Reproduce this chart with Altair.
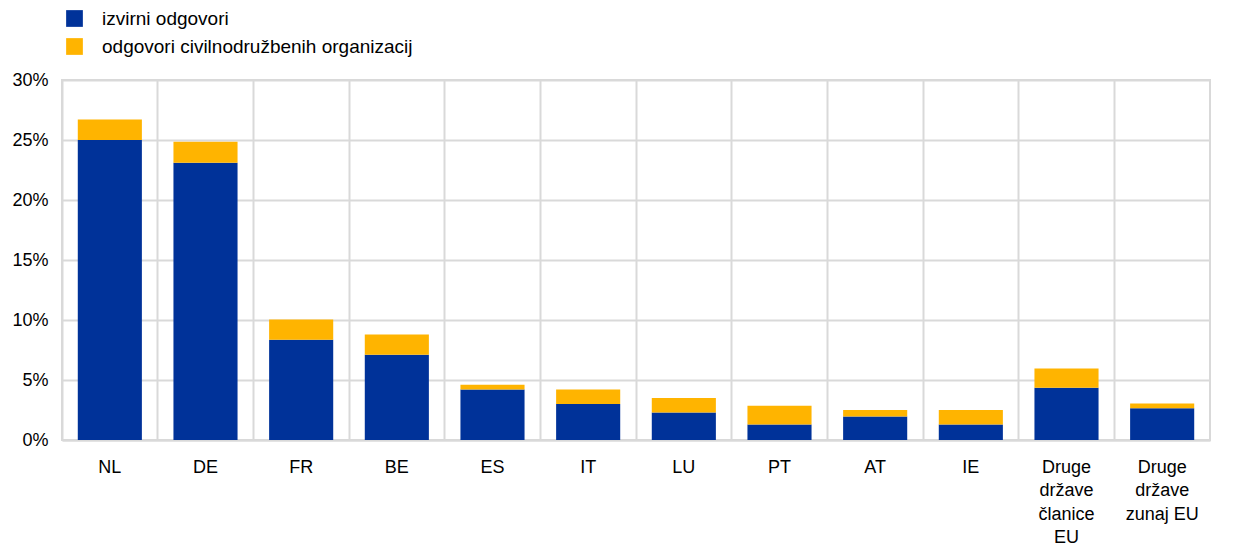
import altair as alt
import pandas as pd

categories = ["NL", "DE", "FR", "BE", "ES", "IT", "LU", "PT", "AT", "IE",
              "Druge\ndržave\nčlanice\nEU", "Druge\ndržave\nzunaj EU"]
original = [25.0, 23.1, 8.35, 7.1, 4.2, 3.0, 2.3, 1.3, 1.95, 1.3, 4.35, 2.65]
cso = [1.7, 1.75, 1.7, 1.7, 0.4, 1.2, 1.2, 1.55, 0.55, 1.2, 1.6, 0.4]
series = ["izvirni odgovori", "odgovori civilnodružbenih organizacij"]
colors = ["#003299", "#FFB400"]

rows = []
for c, a, b in zip(categories, original, cso):
    rows.append({"cat": c, "series": series[0], "value": a, "ord": 0})
    rows.append({"cat": c, "series": series[1], "value": b, "ord": 1})
df = pd.DataFrame(rows)

FONT = "Arial, Liberation Sans"

chart = alt.Chart(df).mark_bar(width=alt.RelativeBandSize(0.67)).encode(
    x=alt.X("cat:N", sort=categories, title=None,
            scale=alt.Scale(paddingInner=0, paddingOuter=0),
            axis=alt.Axis(labelExpr="split(datum.label, '\\n')", labelAngle=0,
                          labelFontSize=18, labelFont=FONT, labelColor="#000",
                          labelPadding=18, labelLineHeight=23.5,
                          ticks=False, grid=True, bandPosition=0,
                          gridColor="#d9d9d9", gridWidth=2,
                          domainColor="#d9d9d9", domainWidth=2)),
    y=alt.Y("value:Q", stack="zero", title=None,
            scale=alt.Scale(domain=[0, 30], nice=False),
            axis=alt.Axis(values=[0, 5, 10, 15, 20, 25, 30],
                          labelExpr="datum.value + '%'",
                          labelFontSize=18, labelFont=FONT, labelColor="#000",
                          labelPadding=14, ticks=False, domain=False,
                          gridColor="#d9d9d9", gridWidth=2)),
    color=alt.Color("series:N", sort=series,
                    scale=alt.Scale(domain=series, range=colors),
                    legend=alt.Legend(title=None, orient="none", legendX=3, legendY=-71,
                                      symbolType="square", symbolSize=280,
                                      symbolStrokeWidth=0, labelFontSize=19,
                                      labelFont=FONT, labelColor="#000",
                                      labelOffset=18, rowPadding=8, padding=0,
                                      labelLimit=600)),
    order=alt.Order("ord:Q", sort="ascending"),
).properties(
    width=1148, height=360,
    autosize=alt.AutoSizeParams(type="none"),
    padding={"left": 54, "top": 72, "right": 22, "bottom": 109},
).configure_view(stroke="#d9d9d9", strokeWidth=2)

chart.save("out.html", embed_options={"renderer": "svg", "actions": False})
